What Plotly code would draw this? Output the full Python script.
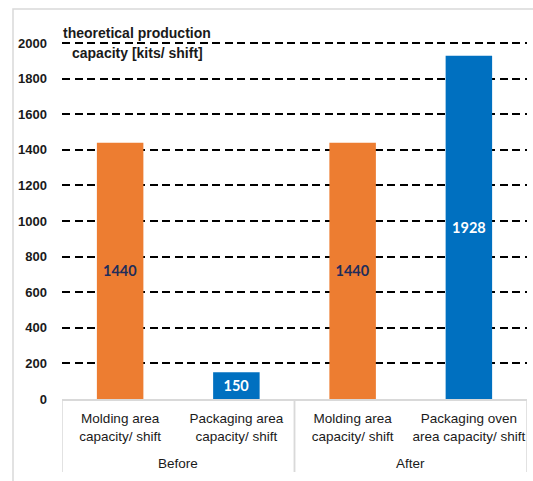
import plotly.graph_objects as go

# Chart data
groups = ["Before", "After"]
group_of_bar = [0, 0, 1, 1]
categories = [
    "Molding area<br>capacity/ shift",
    "Packaging area<br>capacity/ shift",
    "Molding area<br>capacity/ shift",
    "Packaging oven<br>area capacity/ shift",
]
capacity = [1440, 150, 1440, 1928]
bar_colors = ["#ED7D31", "#0070C0", "#ED7D31", "#0070C0"]
label_colors = ["#1F2D5A", "#FFFFFF", "#1F2D5A", "#FFFFFF"]
y_ticks = list(range(0, 2001, 200))
y_title_lines = ["theoretical production", "capacity [kits/ shift]"]

W, H = 533, 481
L, R, T, B = 62, 6, 39, 82
pw, ph = W - L - R, H - T - B
y_top = 2022.5  # a little headroom so the 2000 gridline is drawn

positions = list(range(len(capacity)))

fig = go.Figure(
    go.Bar(
        x=positions,
        y=capacity,
        marker=dict(color=bar_colors, line=dict(width=0)),
        width=0.4,
        text=[str(v) for v in capacity],
        textposition="inside",
        insidetextanchor="middle",
        textangle=0,
        textfont=dict(family="Lato", size=14.5, color=label_colors, weight="bold"),
        hoverinfo="skip",
    )
)

fig.update_layout(
    width=W,
    height=H,
    margin=dict(l=L, r=R, t=T, b=B, pad=0, autoexpand=False),
    paper_bgcolor="white",
    plot_bgcolor="white",
    showlegend=False,
    font=dict(family="Liberation Sans", color="#1E1E1E"),
)

fig.update_xaxes(
    range=[-0.5, len(capacity) - 0.5],
    tickvals=positions,
    ticktext=categories,
    tickangle=0,
    automargin=False,
    showline=True,
    linecolor="#D9D9D9",
    linewidth=1.5,
    showgrid=False,
    zeroline=False,
    ticks="",
    ticklabelstandoff=6,
    tickfont=dict(size=13.5, color="#1A1A1A"),
)

fig.update_yaxes(
    range=[0, y_top],
    tickvals=y_ticks,
    showgrid=True,
    gridcolor="#000000",
    gridwidth=1.7,
    griddash="8px,4.5px",
    zeroline=False,
    showline=False,
    ticks="",
    automargin=False,
    ticklabelstandoff=14,
    tickfont=dict(size=13, color="#1A1A1A", weight="bold"),
)

# Group labels and the dividers between groups under the axis
y_div_bottom = -(472 - (H - B)) / ph
for gi, name in enumerate(groups):
    members = [p for p, g in zip(positions, group_of_bar) if g == gi]
    fig.add_annotation(
        text=name,
        xref="x", yref="paper",
        x=sum(members) / len(members),
        y=-(463 - (H - B)) / ph,
        xanchor="center", yanchor="middle",
        showarrow=False,
        font=dict(size=13.5, color="#1A1A1A"),
    )
    for edge in (min(members) - 0.5, max(members) + 0.5):
        fig.add_shape(
            type="line",
            xref="x", yref="paper",
            x0=edge, x1=edge, y0=0, y1=y_div_bottom,
            line=dict(color="#D9D9D9", width=1.5),
        )

# Axis title above the plot area, left side
for i, line in enumerate(y_title_lines):
    fig.add_annotation(
        text="<b>" + line + "</b>",
        xref="paper", yref="paper",
        x=(137 - L) / pw,
        y=1 - ((33 + 20 * i) - T) / ph,
        xanchor="center", yanchor="middle",
        showarrow=False,
        font=dict(size=14, color="#1A1A1A"),
    )

# Light frame around the chart
fig.add_shape(
    type="rect",
    xref="paper", yref="paper",
    x0=(13 - L) / pw, x1=(545 - L) / pw,
    y0=-(495 - (H - B)) / ph, y1=1 + (T - 9) / ph,
    line=dict(color="#D9D9D9", width=1.5),
    fillcolor="rgba(0,0,0,0)",
    layer="below",
)

fig.write_html("out.html")
